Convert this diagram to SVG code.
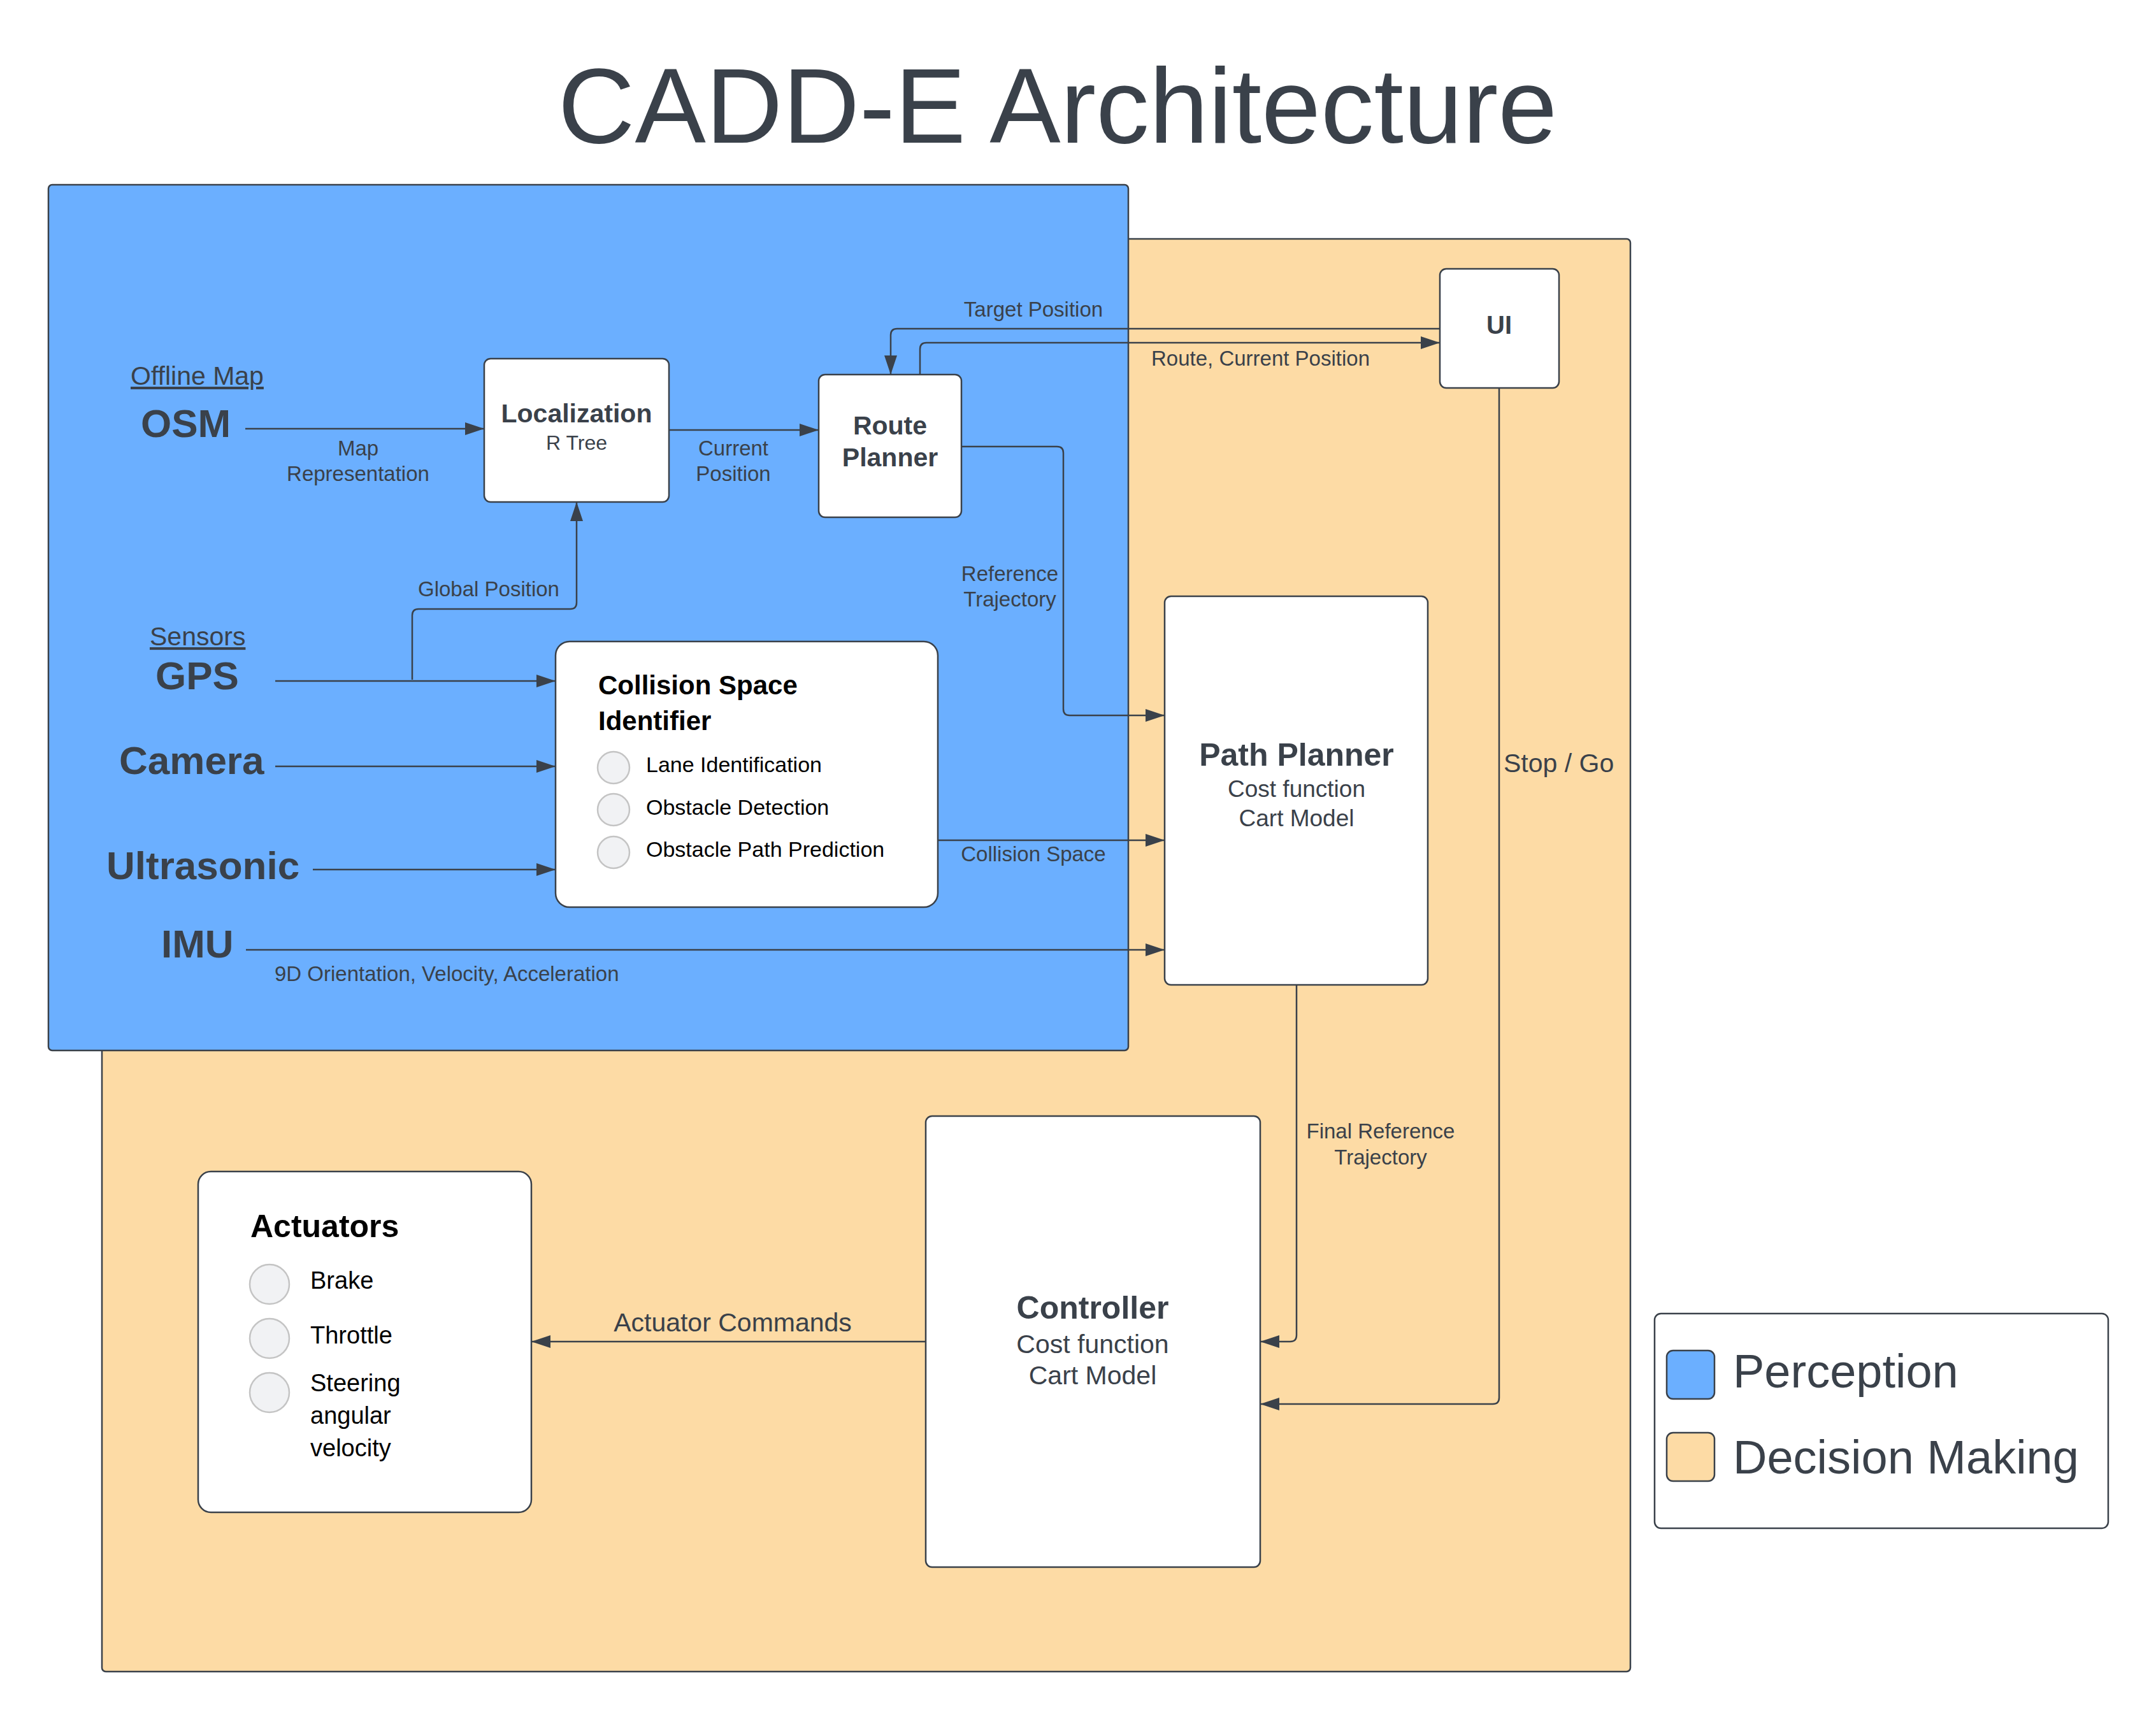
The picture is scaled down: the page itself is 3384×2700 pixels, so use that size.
<svg xmlns="http://www.w3.org/2000/svg" width="3384" height="2700" viewBox="0 0 3384 2700">
<defs>
<marker id="arr" markerUnits="userSpaceOnUse" markerWidth="30" markerHeight="20" refX="30" refY="10" orient="auto">
<path d="M0,0 L30,10 L0,20 z" fill="#3a414a"/>
</marker>
<style>
text{font-family:"Liberation Sans",Arial,Helvetica,sans-serif;fill:#3a414a}
.b{font-weight:bold}
.m{text-anchor:middle}
.k{fill:#000}
.lbl{font-size:33px}
.node{fill:#fff;stroke:#3a414a;stroke-width:2.5}
.dot{fill:#f1f2f4;stroke:#c4c4c4;stroke-width:2.5}
.src{font-size:62px;font-weight:bold}
.conn path{fill:none;stroke:#3a414a;stroke-width:2.5;marker-end:url(#arr)}
</style>
</defs>
<rect width="3384" height="2700" fill="#fff"/>
<text x="1660" y="224" class="m" font-size="167">CADD-E Architecture</text>

<g id="decision-making">
<rect x="160" y="375" width="2399" height="2249" rx="6" fill="#fddba5" stroke="#3a414a" stroke-width="2.5"/>
</g>
<g id="perception">
<rect x="76" y="290" width="1695" height="1359" rx="6" fill="#6bafff" stroke="#3a414a" stroke-width="2.5"/>
</g>

<g id="labels-sources">
<text x="205" y="604" font-size="41" text-decoration="underline">Offline Map</text>
<text x="221" y="686" class="src">OSM</text>
<text x="244" y="1082" class="src">GPS</text>
<text x="235" y="1013" font-size="41" text-decoration="underline">Sensors</text>
<text x="187" y="1215" class="src">Camera</text>
<text x="167" y="1380" class="src">Ultrasonic</text>
<text x="253" y="1503" class="src">IMU</text>
</g>

<g id="connectors" class="conn">
<path d="M2260,516 H1408 Q1398,516 1398,526 V588"/>
<path d="M1444,588 V548 Q1444,538 1454,538 H2260"/>
<path d="M385,673 H760"/>
<path d="M1050,675 H1285"/>
<path d="M1509,701 H1659 Q1669,701 1669,711 V1113 Q1669,1123 1679,1123 H1828"/>
<path d="M647,1067 V966 Q647,956 657,956 H895 Q905,956 905,946 V788"/>
<path d="M432,1069 H872"/>
<path d="M432,1203 H872"/>
<path d="M491,1365 H872"/>
<path d="M1472,1319 H1828"/>
<path d="M386,1491 H1828"/>
<path d="M2035,1546 V2096 Q2035,2106 2025,2106 H1978"/>
<path d="M2353,609 V2194 Q2353,2204 2343,2204 H1978"/>
<path d="M1453,2106 H834"/>
</g>

<g id="connector-labels">
<text x="1622" y="497" class="lbl m">Target Position</text>
<text x="1807" y="574" class="lbl">Route, Current Position</text>
<text x="562" y="715" class="lbl m">Map</text>
<text x="562" y="755" class="lbl m">Representation</text>
<text x="1151" y="715" class="lbl m">Current</text>
<text x="1151" y="755" class="lbl m">Position</text>
<text x="1585" y="912" class="lbl m">Reference</text>
<text x="1585" y="952" class="lbl m">Trajectory</text>
<text x="767" y="936" class="lbl m">Global Position</text>
<text x="1622" y="1352" class="lbl m">Collision Space</text>
<text x="431" y="1540" class="lbl">9D Orientation, Velocity, Acceleration</text>
<text x="2360" y="1212" font-size="41">Stop / Go</text>
<text x="2167" y="1787" class="lbl m">Final Reference</text>
<text x="2167" y="1828" class="lbl m">Trajectory</text>
<text x="1150" y="2090" class="m" font-size="41">Actuator Commands</text>
</g>

<g id="localization">
<rect x="760" y="563" width="290" height="225" rx="10" class="node"/>
<text x="905" y="663" class="b m" font-size="41">Localization</text>
<text x="905" y="706" class="m" font-size="32">R Tree</text>
</g>

<g id="route-planner">
<rect x="1285" y="588" width="224" height="224" rx="10" class="node"/>
<text x="1397" y="682" class="b m" font-size="41">Route</text>
<text x="1397" y="732" class="b m" font-size="41">Planner</text>
</g>

<g id="ui">
<rect x="2260" y="422" width="187" height="187" rx="10" class="node"/>
<text x="2353" y="524" class="b m" font-size="40">UI</text>
</g>

<g id="path-planner">
<rect x="1828" y="936" width="413" height="610" rx="10" class="node"/>
<text x="2035" y="1202" class="b m" font-size="50">Path Planner</text>
<text x="2035" y="1251" class="m" font-size="37">Cost function</text>
<text x="2035" y="1297" class="m" font-size="37">Cart Model</text>
</g>

<g id="collision-space-identifier">
<rect x="872" y="1007" width="600" height="417" rx="22" class="node"/>
<text x="939" y="1090" class="b k" font-size="42">Collision Space</text>
<text x="939" y="1146" class="b k" font-size="42">Identifier</text>
<circle cx="963" cy="1205" r="25" class="dot"/>
<circle cx="963" cy="1271" r="25" class="dot"/>
<circle cx="963" cy="1338" r="25" class="dot"/>
<text x="1014" y="1212" class="k" font-size="34">Lane Identification</text>
<text x="1014" y="1279" class="k" font-size="34">Obstacle Detection</text>
<text x="1014" y="1345" class="k" font-size="34">Obstacle Path Prediction</text>
</g>

<g id="controller">
<rect x="1453" y="1752" width="525" height="708" rx="10" class="node"/>
<text x="1715" y="2070" class="b m" font-size="50">Controller</text>
<text x="1715" y="2124" class="m" font-size="41">Cost function</text>
<text x="1715" y="2173" class="m" font-size="41">Cart Model</text>
</g>

<g id="actuators">
<rect x="311" y="1839" width="523" height="535" rx="20" class="node"/>
<text x="393" y="1942" class="b k" font-size="50">Actuators</text>
<circle cx="423" cy="2016" r="31" class="dot"/>
<circle cx="423" cy="2101" r="31" class="dot"/>
<circle cx="423" cy="2186" r="31" class="dot"/>
<text x="487" y="2023" class="k" font-size="38">Brake</text>
<text x="487" y="2109" class="k" font-size="38">Throttle</text>
<text x="487" y="2184" class="k" font-size="38">Steering</text>
<text x="487" y="2235" class="k" font-size="38">angular</text>
<text x="487" y="2286" class="k" font-size="38">velocity</text>
</g>

<g id="legend">
<rect x="2597" y="2062" width="712" height="337" rx="10" class="node"/>
<rect x="2616" y="2120" width="75" height="76" rx="10" fill="#6bafff" stroke="#3a414a" stroke-width="2.5"/>
<rect x="2616" y="2249" width="75" height="76" rx="10" fill="#fddba5" stroke="#3a414a" stroke-width="2.5"/>
<text x="2720" y="2178" font-size="74">Perception</text>
<text x="2720" y="2313" font-size="74">Decision Making</text>
</g>
</svg>
